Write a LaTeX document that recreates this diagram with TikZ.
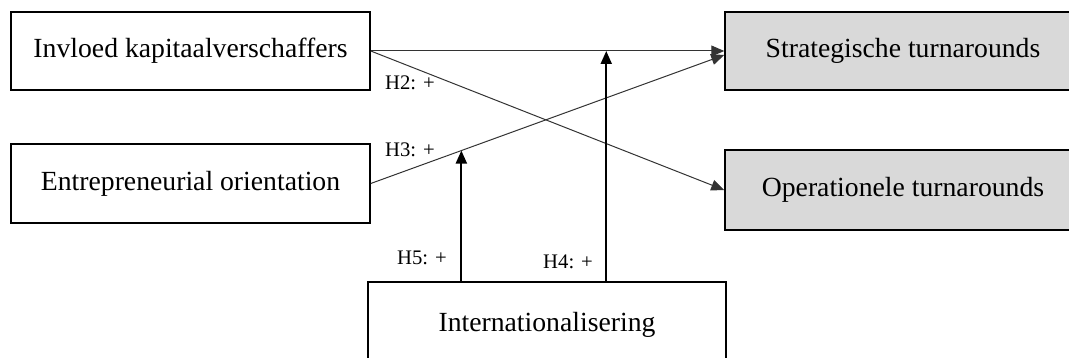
\documentclass[tikz,border=0pt]{standalone}
\usepackage{fontspec}
\setmainfont{Liberation Serif}
\usetikzlibrary{arrows.meta,calc}
\begin{document}
\begin{tikzpicture}[x=1pt,y=-1pt,
  box/.style={draw=black,line width=1.5pt,rectangle,inner sep=0pt,
    font=\fontsize{27.7}{33}\selectfont},
  outbox/.style={box,fill=gray!30},
  thin/.style={draw=black!80,line width=1pt,-{Triangle[length=13pt,width=11pt]}},
  thick/.style={draw=black,line width=2pt,-{Triangle[length=13pt,width=11pt]}},
  lab/.style={anchor=west,inner sep=0pt,font=\fontsize{20.7}{25}\selectfont}]
\useasboundingbox (0,0) rectangle (1069,358);
\clip (0,0) rectangle (1069,358);
\node[box,minimum width=359pt,minimum height=78pt] (A) at (190.5,51) {Invloed kapitaalverschaffers};
\node[box,minimum width=359pt,minimum height=79pt] (B) at (190.5,183.5) {Entrepreneurial orientation};
\node[outbox,minimum width=356pt,minimum height=78pt] (S) at (903,51) {Strategische turnarounds};
\node[outbox,minimum width=356pt,minimum height=80pt] (O) at (903,190) {Operationele turnarounds};
\node[box,minimum width=358pt,minimum height=86pt] (I) at (547,325) {Internationalisering};
\coordinate (S3) at ($(S.west)+(0,4)$);
\coordinate (P5) at ($(B.east)!0.2563!(S3)$);
\coordinate (I4) at ($(I.north west)+(239,0)$);
\coordinate (T4) at (I4 |- A.east);
\coordinate (I5) at (P5 |- I.north);
\draw[thin] (A.east) -- (S.west);
\draw[thin] (A.east) -- (O.west);
\draw[thin] (B.east) -- (S3);
\draw[thick] (I4) -- (T4);
\draw[thick] (I5) -- (P5);
\node[lab] (h2) at (385,83) {H2: +};
\node[lab] (h3) at (385,150) {H3: +};
\node[lab] (h5) at (397,258) {H5: +};
\node[lab] (h4) at (543,262) {H4: +};
\end{tikzpicture}
\end{document}
